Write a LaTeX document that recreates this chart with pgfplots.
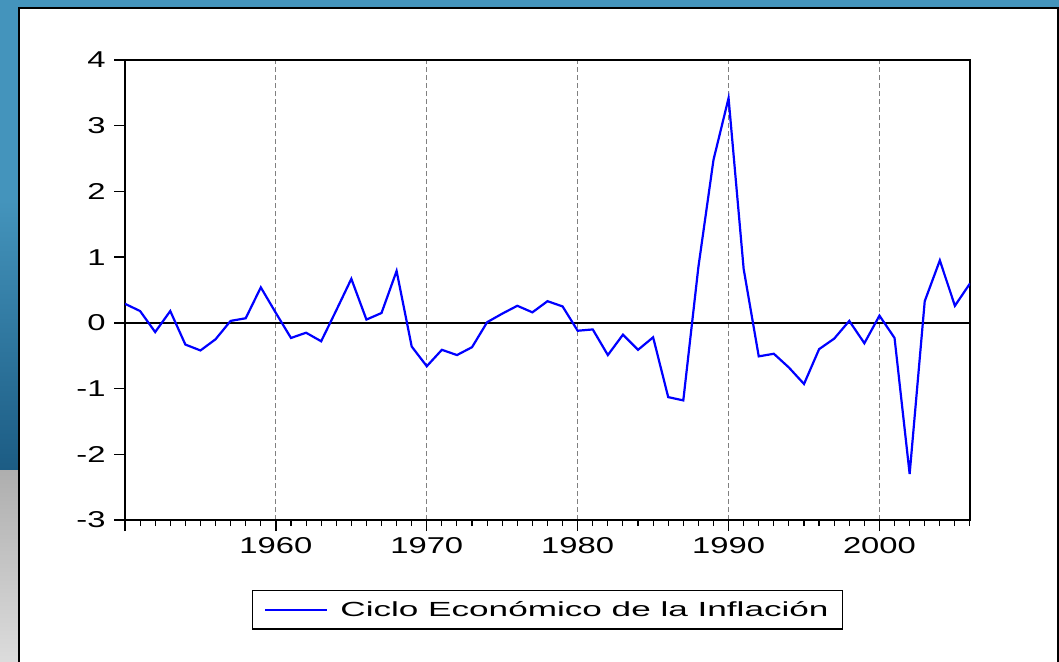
\documentclass[border=0pt]{standalone}
\usepackage{pgfplots}
\pgfplotsset{compat=1.18}
\usepackage{pgfplotstable}
\usepackage{fontspec}
\setmainfont{Liberation Sans}
\newfontfamily\tickfont{Liberation Sans}[FakeStretch=1.43]
\newfontfamily\legfont{Liberation Sans}[FakeStretch=1.72]
\definecolor{bgblue}{RGB}{68,148,188}
\definecolor{bgdark}{RGB}{28,92,132}
\definecolor{bggray}{RGB}{205,205,205}
\definecolor{serblue}{RGB}{0,0,255}
\pgfplotstableread{
year val
1950 0.29
1951 0.18
1952 -0.14
1953 0.18
1954 -0.33
1955 -0.42
1956 -0.25
1957 0.03
1958 0.07
1959 0.54
1960 0.15
1961 -0.23
1962 -0.15
1963 -0.28
1964 0.19
1965 0.67
1966 0.05
1967 0.15
1968 0.79
1969 -0.36
1970 -0.66
1971 -0.41
1972 -0.49
1973 -0.37
1974 0.01
1975 0.14
1976 0.26
1977 0.16
1978 0.33
1979 0.25
1980 -0.12
1981 -0.10
1982 -0.49
1983 -0.18
1984 -0.41
1985 -0.22
1986 -1.13
1987 -1.18
1988 0.85
1989 2.48
1990 3.42
1991 0.82
1992 -0.51
1993 -0.47
1994 -0.68
1995 -0.93
1996 -0.40
1997 -0.24
1998 0.03
1999 -0.31
2000 0.11
2001 -0.23
2002 -2.30
2003 0.33
2004 0.95
2005 0.26
2006 0.60
}\datatable
\begin{document}
\begin{tikzpicture}
\useasboundingbox (0bp,0bp) rectangle (1059bp,-662bp);
\fill[bgblue] (0bp,0bp) rectangle (1059bp,-662bp);
\shade[top color=bgblue, bottom color=bgdark] (0bp,-200bp) rectangle (20bp,-470bp);
\shade[top color=bggray!85!black, bottom color=bggray!70!white] (0bp,-470bp) rectangle (20bp,-662bp);
\filldraw[fill=white, draw=black, line width=2bp] (19bp,-8bp) rectangle (1057.5bp,-670bp);
\begin{axis}[
  at={(125bp,-520bp)}, anchor=south west,
  scale only axis, width=845bp, height=460bp,
  xmin=1950, xmax=2006, ymin=-3, ymax=4,
  axis line style={black, line width=1.6bp},
  xtick={1950,1960,1970,1980,1990,2000},
  xticklabels={,1960,1970,1980,1990,2000},
  minor xtick={1950,...,2006},
  ytick={-3,-2,-1,0,1,2,3,4},
  yticklabels={-3,-2,-1,0,1,2,3,4},
  tick align=outside,
  xtick pos=bottom, ytick pos=left,
  major tick length=11bp, minor tick length=6bp,
  tick style={black, line width=1.3bp},
  minor tick style={black, line width=1.1bp},
  xmajorgrids,
  major grid style={gray, line width=0.9bp, dash pattern=on 5bp off 3bp},
  ticklabel style={font=\tickfont\fontsize{23}{26}\selectfont},
  xticklabel style={yshift=-3bp},
  yticklabel style={xshift=-5bp},
  legend style={at={(0.5,-0.152)}, anchor=north, draw=black, line width=1.2bp,
    font=\legfont\fontsize{20.5}{24}\selectfont, inner xsep=12bp, inner ysep=9bp,
    /tikz/every odd column/.append style={column sep=10bp}},
  legend image code/.code={\draw[#1, serblue, line width=2bp] (0bp,0bp) -- (62bp,0bp);},
]
\addplot[black, line width=1.5bp, forget plot] coordinates {(1950,0) (2006,0)};
\addplot[serblue, line width=2.2bp] table[x=year, y=val] {\datatable};
\addlegendentry{Ciclo Económico de la Inflación}
\end{axis}
\end{tikzpicture}
\end{document}
